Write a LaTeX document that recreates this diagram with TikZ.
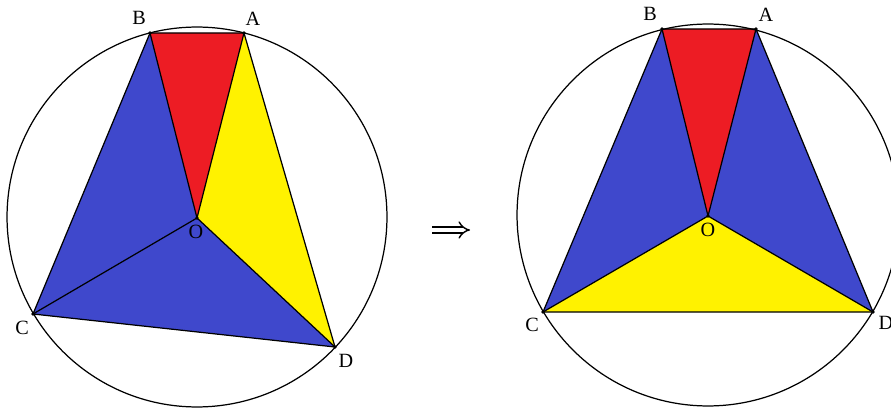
\documentclass[tikz,border=0pt]{standalone}
\usepackage{fontspec}
\setmainfont{Liberation Serif}
\usetikzlibrary{positioning, arrows.meta}
\definecolor{paintred}{RGB}{237, 28, 36}
\definecolor{paintblue}{RGB}{63, 72, 204}
\definecolor{paintyellow}{RGB}{255, 242, 0}

\begin{document}
\begin{tikzpicture}[x=0.02cm, y=-0.02cm, line width=0.7pt,
    every node/.style={font=\fontsize{11.5}{13}\selectfont, inner sep=0pt},
    vertex/.style={fill=black}]

        \useasboundingbox (0,0) rectangle (891,408);
        \clip (0,0) rectangle (891,408);

        % --- LEFT FIGURE ---
        \coordinate (lO) at (197,218);
        \coordinate (lB) at (150,33);
        \coordinate (lA) at (244,33);
        \coordinate (lC) at (33,314);
        \coordinate (lD) at (335,347);

        % Triangles
        \fill[paintred] (lO) -- (lB) -- (lA) -- cycle;
        \fill[paintyellow] (lO) -- (lA) -- (lD) -- cycle;
        \fill[paintblue] (lO) -- (lB) -- (lC) -- cycle;
        \fill[paintblue] (lO) -- (lC) -- (lD) -- cycle;

        % Edges
        \draw (lB) -- (lA) -- (lD) -- (lC) -- cycle;
        \draw (lO) -- (lA) (lO) -- (lB) (lO) -- (lC) (lO) -- (lD);
        \draw (197,217) circle [radius=3.8cm];
        \foreach \p in {lO,lA,lB,lC,lD} \fill[vertex] (\p) circle (1.1pt);

        % Labels
        \node (lblB) at (139,18) {B};
        \node (lblA) at (253,19) {A};
        \node (lblO) at (196,232) {O};
        \node (lblC) at (22,328) {C};
        \node (lblD) at (346,361) {D};

        % --- ARROW ---
        \coordinate (implfrom) at (432,230);
        \coordinate (implto) at (470,230);
        \draw[double, double distance=2.6pt, line width=0.8pt, -{Implies}] (implfrom) -- (implto);

        % --- RIGHT FIGURE ---
        \coordinate (rO) at (708,216);
        \coordinate (rB) at (662,29);
        \coordinate (rA) at (756,29);
        \coordinate (rC) at (543,312);
        \coordinate (rD) at (873,312);

        % Triangles
        \fill[paintred] (rO) -- (rB) -- (rA) -- cycle;
        \fill[paintblue] (rO) -- (rA) -- (rD) -- cycle;
        \fill[paintyellow] (rO) -- (rD) -- (rC) -- cycle;
        \fill[paintblue] (rO) -- (rC) -- (rB) -- cycle;

        % Edges
        \draw (rB) -- (rA) -- (rD) -- (rC) -- cycle;
        \draw (rO) -- (rA) (rO) -- (rB) (rO) -- (rC) (rO) -- (rD);
        \draw (708,215) circle [radius=3.82cm];
        \foreach \p in {rO,rA,rB,rC,rD} \fill[vertex] (\p) circle (1.1pt);

        % Labels
        \node (lblrB) at (650,14) {B};
        \node (lblrA) at (766,15) {A};
        \node (lblrO) at (708,230) {O};
        \node (lblrC) at (532,325) {C};
        \node (lblrD) at (886,323) {D};

    \end{tikzpicture}
\end{document}
